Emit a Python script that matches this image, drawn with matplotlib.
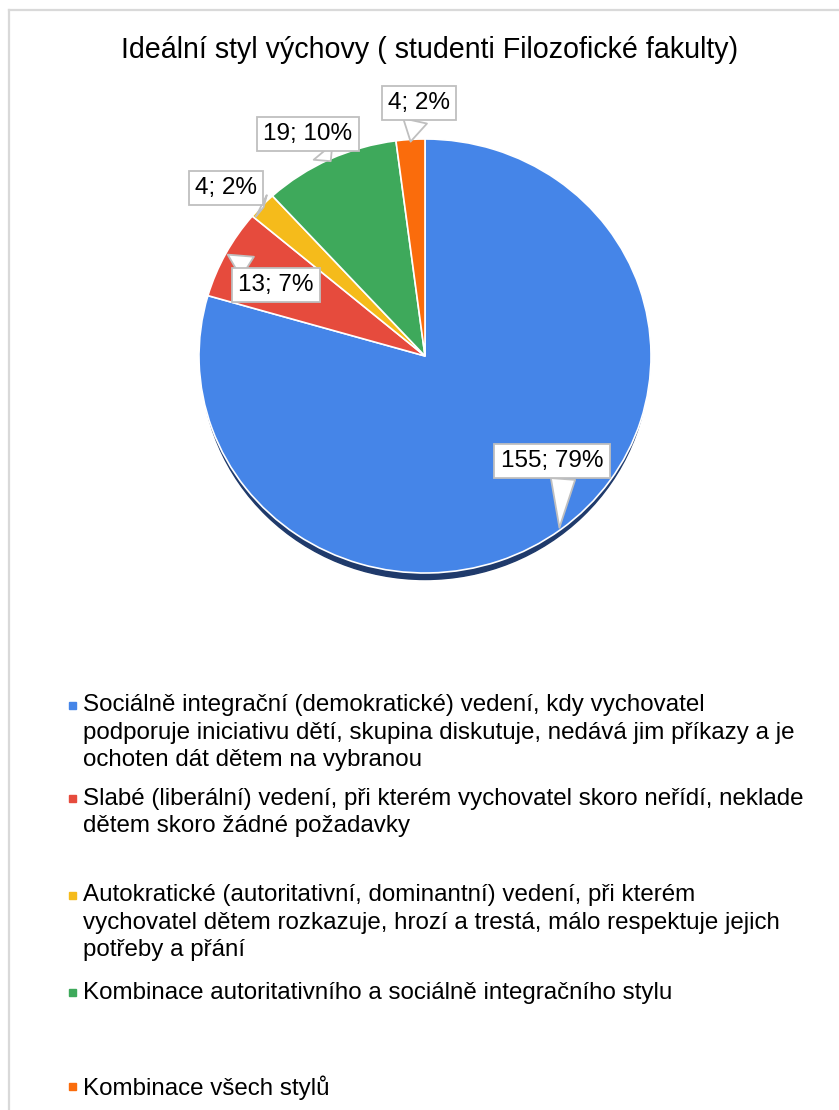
import numpy as np
import matplotlib
matplotlib.use('Agg')
import matplotlib.pyplot as plt
from matplotlib.patches import Ellipse, Rectangle
from matplotlib.lines import Line2D

# ---------------- data ----------------
title = "Ideální styl výchovy ( studenti Filozofické fakulty)"
categories = [
    "Sociálně integrační (demokratické) vedení, kdy vychovatel\npodporuje iniciativu dětí, skupina diskutuje, nedává jim příkazy a je\nochoten dát dětem na vybranou",
    "Slabé (liberální) vedení, při kterém vychovatel skoro neřídí, neklade\ndětem skoro žádné požadavky",
    "Autokratické (autoritativní, dominantní) vedení, při kterém\nvychovatel dětem rozkazuje, hrozí a trestá, málo respektuje jejich\npotřeby a přání",
    "Kombinace autoritativního a sociálně integračního stylu",
    "Kombinace všech stylů",
]
values = [155, 13, 4, 19, 4]
colors = ["#4585e8", "#e64b3d", "#f5bb1b", "#3ea95b", "#fa6c0c"]

# ---------------- layout ----------------
plt.rcParams['font.family'] = ['Liberation Sans', 'DejaVu Sans']
W, H = 839, 1110
fig = plt.figure(figsize=(W / 100, H / 100), dpi=100)

def fx(px):
    return px / W

def fy(py):
    return 1 - py / H

# outer chart border (left and top visible)
fig.add_artist(Line2D([fx(9), fx(9)], [fy(10), fy(H + 5)], color="#d9d9d9", lw=1.6))
fig.add_artist(Line2D([fx(9), fx(W + 5)], [fy(10), fy(10)], color="#d9d9d9", lw=1.6))

fig.text(fx(430), fy(50), title, ha='center', va='center', fontsize=20.6, color='#000000')

# pie (slightly elliptic, like the tilted original)
cx, cy, rx, ry = 425, 356, 226, 217
m = 1.1
ax = fig.add_axes([fx(cx - rx * m), fy(cy + ry * m), 2 * rx * m / W, 2 * ry * m / H])
ax.add_patch(Ellipse((0.0, -0.03), 1.98, 2.0, color="#1f3a6b", zorder=0))
wedges, _ = ax.pie(values, colors=colors, startangle=90, counterclock=False,
                   wedgeprops=dict(edgecolor='white', linewidth=1.2))
ax.set_aspect('auto')
ax.set_xlim(-m, m)
ax.set_ylim(-m, m)
ax.axis('off')

total = sum(values)
label_pos = [(552, 461), (276, 285), (226, 188), (308, 134), (419, 103)]
rel_pos = [(0.62, 0.5), (0.5, 0.5), (0.5, 0.5), (0.5, 0.5), (0.5, 0.5)]
for w, v, (px, py), rp in zip(wedges, values, label_pos, rel_pos):
    ang = np.deg2rad((w.theta1 + w.theta2) / 2)
    xy = (np.cos(ang) * 0.99, np.sin(ang) * 0.99)
    txt = f"{v}; {round(100 * v / total)}%"
    ax.annotate(txt, xy=xy, xytext=((px - cx) / rx, (cy - py) / ry),
                ha='center', va='center', fontsize=17.5, color='#000000',
                bbox=dict(boxstyle='square,pad=0.26', fc='white', ec='#bfbfbf', lw=1.3),
                arrowprops=dict(arrowstyle='wedge,tail_width=1.0,shrink_factor=0.5',
                                fc='white', ec='#bfbfbf', lw=1.3,
                                shrinkA=0, shrinkB=0, relpos=rp),
                zorder=5)

# legend (manual, to follow the original uneven spacing)
leg_y = [705, 798, 895, 992, 1086]
for lab, col, y in zip(categories, colors, leg_y):
    fig.add_artist(Rectangle((fx(69), fy(y + 3.5)), 7 / W, 7 / H, color=col,
                             transform=fig.transFigure))
    fig.text(fx(83), fy(y - 10.5), lab, ha='left', va='top', fontsize=17.4,
             color='#000000', linespacing=1.32)

fig.savefig('out.png', dpi=100, facecolor='white')
